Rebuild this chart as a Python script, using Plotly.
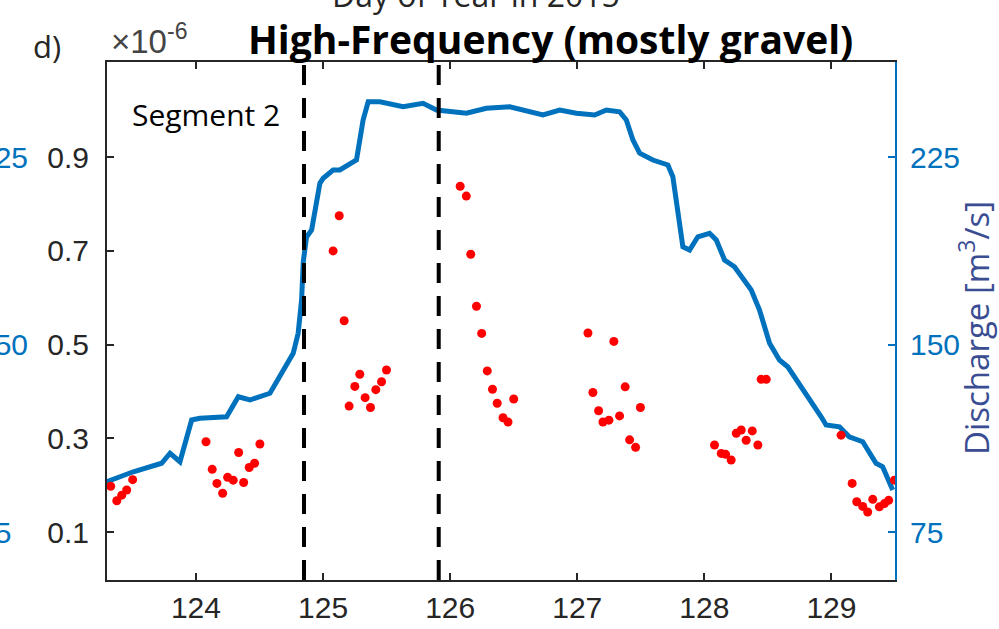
import plotly.graph_objects as go

# discharge (right axis, m^3/s) vs day of year
q_day = [123.298, 123.507, 123.730, 123.796, 123.874, 123.966, 124.031, 124.241, 124.333, 124.425,
         124.582, 124.686, 124.765, 124.804, 124.831, 124.844, 124.870, 124.910, 124.949, 124.975,
         125.001, 125.079, 125.132, 125.224, 125.263, 125.315, 125.355, 125.447, 125.630, 125.787,
         125.892, 126.128, 126.285, 126.469, 126.730, 126.862, 126.993, 127.137, 127.229, 127.333,
         127.386, 127.438, 127.491, 127.595, 127.713, 127.752, 127.779, 127.805, 127.831, 127.884,
         127.949, 128.041, 128.094, 128.159, 128.237, 128.369, 128.434, 128.513, 128.591, 128.656,
         128.801, 128.919, 128.958, 129.063, 129.140, 129.246, 129.351, 129.403, 129.482]
q_val = [95.1, 99.1, 102.5, 106.5, 103.1, 119.8, 120.5, 121.1, 129.1, 127.8,
         130.5, 139.8, 146.5, 154.5, 167.8, 183.0, 193.0, 195.8, 207.8, 214.5,
         216.5, 219.8, 219.8, 222.5, 223.8, 239.8, 247.1, 247.1, 245.1, 246.5,
         243.8, 242.5, 244.5, 245.1, 241.8, 243.8, 242.5, 241.8, 243.8, 243.1,
         239.8, 231.8, 226.5, 223.8, 221.8, 217.1, 207.8, 195.8, 189.1, 187.8,
         193.1, 194.5, 191.8, 183.8, 181.1, 171.8, 163.8, 150.5, 143.8, 141.1,
         130.5, 121.1, 117.8, 117.1, 113.1, 111.1, 102.5, 101.1, 91.8]

# high-frequency signal (left axis, x10^-6)
hf_day = [123.329, 123.377, 123.416, 123.455, 123.502,
          124.079, 124.128, 124.165, 124.210, 124.249, 124.293, 124.336, 124.375, 124.419, 124.461, 124.503,
          125.079, 125.127, 125.166, 125.205, 125.250, 125.289, 125.331, 125.373, 125.415, 125.460, 125.499,
          126.079, 126.127, 126.162, 126.207, 126.248, 126.292, 126.333, 126.370, 126.416, 126.455, 126.500,
          127.084, 127.123, 127.168, 127.202, 127.249, 127.288, 127.333, 127.377, 127.412, 127.459, 127.497,
          128.080, 128.133, 128.167, 128.211, 128.251, 128.290, 128.329, 128.377, 128.421, 128.447, 128.487,
          129.076, 129.163, 129.199, 129.246, 129.285, 129.325, 129.377, 129.417, 129.450, 129.495]
hf_val = [0.198, 0.167, 0.179, 0.190, 0.212,
          0.293, 0.234, 0.204, 0.183, 0.217, 0.211, 0.270, 0.206, 0.238, 0.247, 0.288,
          0.700, 0.775, 0.551, 0.369, 0.411, 0.437, 0.387, 0.366, 0.404, 0.421, 0.446,
          0.838, 0.817, 0.693, 0.582, 0.524, 0.444, 0.405, 0.375, 0.344, 0.335, 0.384,
          0.525, 0.398, 0.359, 0.335, 0.339, 0.507, 0.348, 0.410, 0.297, 0.281, 0.366,
          0.286, 0.268, 0.266, 0.254, 0.311, 0.318, 0.296, 0.316, 0.286, 0.426, 0.426,
          0.307, 0.204, 0.165, 0.155, 0.143, 0.170, 0.154, 0.161, 0.168, 0.211]

segment_bounds = [124.85, 125.91]
x_ticks = [124, 125, 126, 127, 128, 129]
left_ticks = [0.1, 0.3, 0.5, 0.7, 0.9]
right_ticks = [75, 150, 225]
neighbour_ticks = ["75", "150", "225"]  # cut-off labels of the panel to the left

BLUE = "#0072BD"
INK = "#262626"
TICKFONT = "Liberation Sans"
TEXTFONT = "Open Sans"

fig = go.Figure()

fig.add_trace(go.Scatter(x=q_day, y=q_val, mode="lines", yaxis="y",
                         line=dict(color=BLUE, width=5), showlegend=False))
fig.add_trace(go.Scatter(x=hf_day, y=hf_val, mode="markers", yaxis="y2",
                         marker=dict(color="#FF0000", size=9), showlegend=False))

for xb in segment_bounds:
    fig.add_shape(type="line", x0=xb, x1=xb, y0=0, y1=1, xref="x", yref="paper",
                  line=dict(color="black", width=4, dash="20px,13px"), layer="above")

# text bits
fig.add_annotation(x=0.5622, y=1.046, xref="paper", yref="paper", showarrow=False,
                   text="<b>High-Frequency (mostly gravel)</b>", xanchor="center", yanchor="middle",
                   font=dict(family=TEXTFONT, size=39, color="black"))
fig.add_annotation(x=0.4683, y=1.131, xref="paper", yref="paper", showarrow=False,
                   text="Day of Year in 2015", xanchor="center", yanchor="middle",
                   font=dict(family=TEXTFONT, size=32, color=INK))
fig.add_annotation(x=-0.0761, y=1.0309, xref="paper", yref="paper", showarrow=False,
                   text="d)", xanchor="center", yanchor="middle",
                   font=dict(family=TEXTFONT, size=31, color=INK))
fig.add_annotation(x=0.003, y=1.045, xref="paper", yref="paper", showarrow=False,
                   text="×10<sup>-6</sup>", xanchor="left", yanchor="middle",
                   font=dict(family=TICKFONT, size=33, color="#444444"))
fig.add_annotation(x=0.1256, y=0.8977, xref="paper", yref="paper", showarrow=False,
                   text="Segment 2", xanchor="center", yanchor="middle",
                   font=dict(family=TEXTFONT, size=30, color="black"))
fig.add_annotation(x=1.1015, y=0.4865, xref="paper", yref="paper", showarrow=False,
                   text="Discharge [m<sup>3</sup>/s]", textangle=-90,
                   xanchor="center", yanchor="middle",
                   font=dict(family=TEXTFONT, size=33, color="#3a4d92"))
for lab, yv in zip(neighbour_ticks, right_ticks):
    fig.add_annotation(x=-0.1662, y=yv, xref="paper", yref="y", showarrow=False,
                       text=lab, xanchor="left", yanchor="middle",
                       font=dict(family=TICKFONT, size=30, color=BLUE))

fig.update_layout(
    width=999, height=629, autosize=False,
    margin=dict(l=107, r=104, t=62, b=49, pad=0),
    paper_bgcolor="white", plot_bgcolor="white",
    xaxis=dict(range=[123.30, 129.50], tickvals=x_ticks, ticks="inside", ticklen=7, tickwidth=1.5,
               tickcolor=INK, showline=True, linecolor=INK, linewidth=2, mirror="ticks",
               showgrid=False, zeroline=False, automargin=False, ticklabelstandoff=0,
               tickfont=dict(family=TICKFONT, size=30, color=INK)),
    yaxis=dict(range=[55.8, 263.0], side="right", tickvals=right_ticks, ticks="inside",
               ticklen=7, tickwidth=1.5, tickcolor=BLUE, showline=True, linecolor=BLUE,
               linewidth=2, showgrid=False, zeroline=False, automargin=False, ticklabelstandoff=7,
               tickfont=dict(family=TICKFONT, size=30, color=BLUE)),
    yaxis2=dict(range=[-0.002, 1.103], side="left", overlaying="y", tickvals=left_ticks,
                ticktext=[f"{v:.1f}" for v in left_ticks], ticks="inside", ticklen=7, tickwidth=1.5,
                tickcolor=INK, showline=True, linecolor=INK, linewidth=2,
                showgrid=False, zeroline=False, automargin=False, ticklabelstandoff=10,
                tickfont=dict(family=TICKFONT, size=30, color=INK)),
)

# drop the browser's default body margin so the 999x629 figure sits at the page corner
fig.write_html("out.html", config={"displayModeBar": False},
               post_script="document.body.style.margin='0';")
